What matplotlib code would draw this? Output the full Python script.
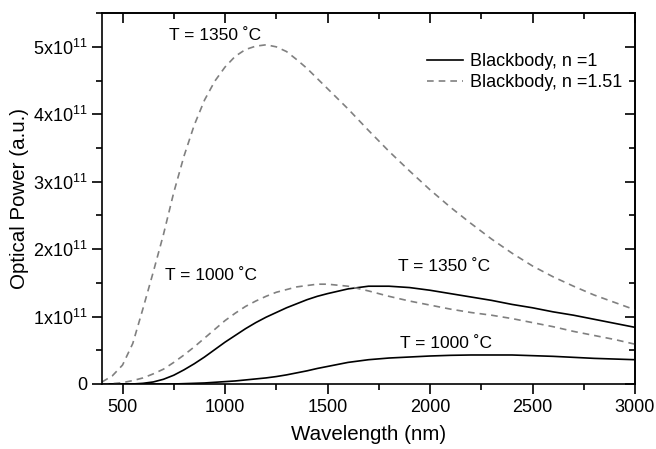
import numpy as np
import matplotlib
matplotlib.use("Agg")
import matplotlib.pyplot as plt
from matplotlib.ticker import MultipleLocator, FuncFormatter

plt.rcParams['font.family'] = ['Liberation Sans', 'DejaVu Sans']
plt.rcParams['mathtext.fontset'] = 'custom'
plt.rcParams['mathtext.rm'] = 'Liberation Sans'

# wavelength grid (nm)
wavelength = [400, 450, 500, 550, 600, 650, 700, 750, 800, 850, 900, 950,
              1000, 1050, 1100, 1150, 1200, 1250, 1300, 1350, 1400, 1450, 1500,
              1600, 1700, 1800, 1900, 2000, 2100, 2200, 2300, 2400, 2500,
              2600, 2700, 2800, 2900, 3000]

# optical power in units of 1e11
n1_T1350 = [0.0, 0.0, 0.0, 0.0, 0.01, 0.03, 0.07, 0.13, 0.21, 0.30, 0.40, 0.51,
            0.62, 0.72, 0.82, 0.91, 0.99, 1.06, 1.13, 1.19, 1.25, 1.30, 1.34,
            1.41, 1.45, 1.45, 1.43, 1.39, 1.34, 1.29, 1.24, 1.18, 1.13,
            1.07, 1.02, 0.96, 0.90, 0.84]
n1_T1000 = [0.0, 0.0, 0.0, 0.0, 0.0, 0.0, 0.0, 0.0, 0.005, 0.01, 0.015, 0.025,
            0.035, 0.045, 0.06, 0.075, 0.09, 0.11, 0.135, 0.165, 0.195, 0.23, 0.26,
            0.32, 0.36, 0.385, 0.40, 0.415, 0.425, 0.43, 0.43, 0.43, 0.42,
            0.41, 0.395, 0.38, 0.37, 0.36]
n151_T1350 = [0.03, 0.12, 0.28, 0.60, 1.12, 1.66, 2.22, 2.84, 3.38, 3.84, 4.21, 4.49,
              4.70, 4.86, 4.96, 5.01, 5.03, 5.00, 4.93, 4.81, 4.68, 4.53, 4.38,
              4.08, 3.76, 3.45, 3.16, 2.88, 2.62, 2.38, 2.15, 1.94, 1.75,
              1.59, 1.45, 1.32, 1.21, 1.10]
n151_T1000 = [0.0, 0.005, 0.02, 0.05, 0.09, 0.15, 0.22, 0.32, 0.43, 0.55, 0.68, 0.81,
              0.94, 1.05, 1.15, 1.23, 1.30, 1.36, 1.40, 1.44, 1.46, 1.48, 1.48,
              1.45, 1.38, 1.30, 1.23, 1.17, 1.11, 1.06, 1.02, 0.97, 0.91,
              0.85, 0.78, 0.72, 0.66, 0.59]

scale = 1e11

fig = plt.figure(figsize=(6.56, 4.49), dpi=100)
ax = fig.add_axes([0.1555, 0.1448, 0.8125, 0.826])

wl = np.array(wavelength)
ax.plot(wl, np.array(n1_T1350) * scale, color='black', lw=1.2, label='Blackbody, n =1')
ax.plot(wl, np.array(n151_T1350) * scale, color='#808080', lw=1.2, ls=(0, (4, 3)),
        label='Blackbody, n =1.51')
ax.plot(wl, np.array(n1_T1000) * scale, color='black', lw=1.2)
ax.plot(wl, np.array(n151_T1000) * scale, color='#808080', lw=1.2, ls=(0, (4, 3)))

ax.set_xlim(400, 3000)
ax.set_ylim(0, 5.5e11)
ax.xaxis.set_major_locator(MultipleLocator(500))
ax.xaxis.set_minor_locator(MultipleLocator(250))
ax.yaxis.set_major_locator(MultipleLocator(1e11))
ax.yaxis.set_minor_locator(MultipleLocator(0.5e11))


def yfmt(v, pos):
    k = int(round(v / 1e11))
    if k == 0:
        return '0'
    return r'%dx10$^{11}$' % k


ax.yaxis.set_major_formatter(FuncFormatter(yfmt))
ax.tick_params(which='major', direction='out', length=7, width=1.2, labelsize=13)
ax.tick_params(which='minor', direction='out', length=4, width=1.2)
for s in ax.spines.values():
    s.set_linewidth(1.2)

# mirrored ticks pointing inward on top and right
top = ax.secondary_xaxis('top')
top.xaxis.set_major_locator(MultipleLocator(500))
top.xaxis.set_minor_locator(MultipleLocator(250))
top.tick_params(which='major', direction='in', length=7, width=1.2, labeltop=False)
top.tick_params(which='minor', direction='in', length=4, width=1.2)
right = ax.secondary_yaxis('right')
right.yaxis.set_major_locator(MultipleLocator(1e11))
right.yaxis.set_minor_locator(MultipleLocator(0.5e11))
right.tick_params(which='major', direction='in', length=7, width=1.2, labelright=False)
right.tick_params(which='minor', direction='in', length=4, width=1.2)
top.spines['top'].set_linewidth(1.2)
right.spines['right'].set_linewidth(1.2)

ax.set_xlabel('Wavelength (nm)', fontsize=14.8, labelpad=7)
ax.set_ylabel('Optical Power (a.u.)', fontsize=14.8, labelpad=3)

ax.text(953, 5.17e11, 'T = 1350 ˚C', fontsize=12.5, ha='center', va='center')
ax.text(930, 1.61e11, 'T = 1000 ˚C', fontsize=12.5, ha='center', va='center')
ax.text(2070, 1.74e11, 'T = 1350 ˚C', fontsize=12.5, ha='center', va='center')
ax.text(2080, 0.60e11, 'T = 1000 ˚C', fontsize=12.5, ha='center', va='center')

ax.legend(loc='upper right', bbox_to_anchor=(0.99, 0.911), frameon=False, fontsize=13,
          handlelength=2.0, handletextpad=0.4, labelspacing=0.2, borderaxespad=0)

fig.savefig('out.png', dpi=100)
